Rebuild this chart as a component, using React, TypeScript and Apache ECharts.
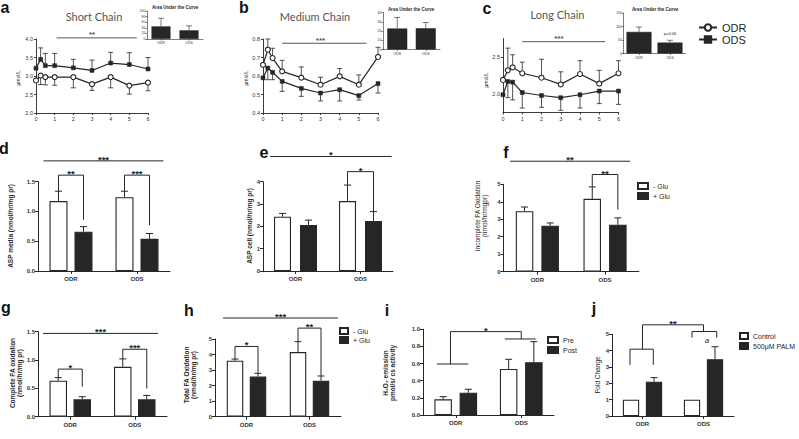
import React, { useEffect, useRef } from 'react';
import * as echarts from 'echarts';

const FONT = '"Liberation Sans", Arial, Helvetica, sans-serif';
const TITLE_FONT = 'Lato, "Open Sans", sans-serif';
const INK = '#262626';

// ---------------- time-course data (panels a-c) ----------------
const timePoints = [0, 0.25, 0.5, 1, 2, 3, 4, 5, 6];

const shortODR = [2.88, 3.01, 2.97, 2.97, 2.97, 2.78, 2.97, 2.74, 2.82];
const shortODRErr = [null, 2.77, 2.76, 2.75, 2.68, 2.61, 2.68, 2.51, 2.6];
const shortODS = [3.21, 3.45, 3.28, 3.28, 3.22, 3.15, 3.35, 3.31, 3.19];
const shortODSErr = [null, 3.76, 3.61, 3.61, 3.45, 3.43, 3.64, 3.63, 3.5];

const mediumODR = [0.66, 0.742, 0.697, 0.625, 0.591, 0.553, 0.598, 0.553, 0.703];
const mediumODRErr = [null, 0.8, 0.75, 0.685, 0.649, 0.593, 0.64, 0.606, 0.755];
const mediumODS = [0.59, 0.643, 0.62, 0.571, 0.533, 0.508, 0.526, 0.494, 0.559];
const mediumODSErr = [null, 0.58, 0.58, 0.517, 0.49, 0.465, 0.465, 0.47, 0.508];

const longODR = [2.19, 2.32, 2.36, 2.28, 2.22, 2.13, 2.27, 2.14, 2.28];
const longODRErr = [null, 2.62, 2.53, 2.43, 2.47, 2.3, 2.45, 2.32, 2.45];
const longODS = [1.99, 2.17, 2.16, 2.02, 1.98, 1.95, 1.99, 2.04, 2.04];
const longODSErr = [null, 1.95, 1.92, 1.81, 1.82, 1.78, 1.81, 1.87, 1.86];

// ---------------- area under the curve insets ----------------
const groups = ['ODR', 'ODS'];
const aucShort = [45, 31];
const aucShortErr = [74, 47];
const aucMedium = [22.7, 23];
const aucMediumErr = [34.6, 29.2];
const aucLong = [80, 40.6];
const aucLongErr = [98, 49];

// ---------------- bar panels (d-j) ----------------
const aspMediaMinus = [1.175, 1.24];
const aspMediaMinusErr = [1.34, 1.34];
const aspMediaPlus = [0.66, 0.54];
const aspMediaPlusErr = [0.745, 0.63];

const aspCellMinus = [2.43, 3.13];
const aspCellMinusErr = [2.58, 3.85];
const aspCellPlus = [2.06, 2.24];
const aspCellPlusErr = [2.28, 2.66];

const incompleteMinus = [3.46, 4.17];
const incompleteMinusErr = [3.7, 4.85];
const incompletePlus = [2.63, 2.69];
const incompletePlusErr = [2.79, 3.08];

const completeMinus = [0.635, 0.88];
const completeMinusErr = [0.69, 1.02];
const completePlus = [0.306, 0.306];
const completePlusErr = [0.353, 0.376];

const totalMinus = [3.6, 4.16];
const totalMinusErr = [3.71, 4.83];
const totalPlus = [2.58, 2.32];
const totalPlusErr = [2.79, 2.62];

const h2o2Pre = [0.183, 0.537];
const h2o2PreErr = [0.214, 0.65];
const h2o2Post = [0.26, 0.615];
const h2o2PostErr = [0.3, 0.856];

const foldControl = [1.0, 1.0];
const foldControlErr = [null, null];
const foldPalm = [2.1, 3.47];
const foldPalmErr = [2.35, 4.24];

type Pt = [number, number, number];
type Ann = { lines?: Pt[][]; text?: string; at?: Pt; size?: number; italic?: boolean; dy?: number; color?: string };

function errSeries(gi: number, xs: number[], means: number[], ends: (number | null)[], off: number, cap: number, z = 4, lw = 0.9) {
  const data = xs.map((x, i) => [x, means[i], ends[i]]).filter((d) => d[2] != null);
  return {
    type: 'custom', xAxisIndex: gi, yAxisIndex: gi, z, silent: true, clip: false,
    data, encode: { x: 0, y: [1, 2] },
    renderItem: (params: any, api: any) => {
      const x = api.value(0), m = api.value(1), e = api.value(2);
      const a = api.coord([x, m]);
      const b = api.coord([x, e]);
      const px = a[0] + off;
      return {
        type: 'group', children: [
          { type: 'line', shape: { x1: px, y1: a[1], x2: px, y2: b[1] }, style: { stroke: INK, lineWidth: lw } },
          { type: 'line', shape: { x1: px - cap, y1: b[1], x2: px + cap, y2: b[1] }, style: { stroke: INK, lineWidth: lw } },
        ],
      };
    },
  };
}

function annSeries(gi: number, anns: Ann[], off: number, isCat: boolean, color: string, textSize: number) {
  return {
    type: 'custom', xAxisIndex: gi, yAxisIndex: gi, z: 6, silent: true, clip: false,
    data: anns.map(() => [0, 0]), encode: { x: 0, y: 1 },
    renderItem: (params: any, api: any) => {
      const a = anns[params.dataIndex];
      const P = (p: Pt) => {
        if (isCat) {
          const c0 = api.coord([0, p[2]]);
          const c1 = api.coord([1, p[2]]);
          return [c0[0] + p[0] * (c1[0] - c0[0]) + p[1] * off, c0[1]];
        }
        const c = api.coord([p[0], p[2]]);
        return [c[0] + p[1] * off, c[1]];
      };
      const children: any[] = [];
      (a.lines || []).forEach((ln) => {
        children.push({ type: 'polyline', shape: { points: ln.map(P) }, style: { stroke: a.color || color, lineWidth: 1, fill: null } });
      });
      if (a.text && a.at) {
        const q = P(a.at);
        children.push({
          type: 'text', x: q[0], y: q[1] + (a.dy == null ? -1.5 : a.dy),
          style: { text: a.text, fontSize: a.size || textSize, fontFamily: FONT, fontWeight: a.italic ? 'normal' : 'bold', fontStyle: a.italic ? 'italic' : 'normal', fill: a.color || color, align: 'center', verticalAlign: 'middle' },
        });
      }
      return { type: 'group', children };
    },
  };
}

const linePanels = [
  { box: { left: 36, top: 39, width: 112, height: 74 }, yMin: 2, yMax: 4, yInt: 0.5, ticks: undefined as any,
    odr: shortODR, odrErr: shortODRErr, ods: shortODS, odsErr: shortODSErr,
    anns: [{ lines: [[[1.1, 0, 4.03], [5.4, 0, 4.03]]], text: '**', at: [3.0, 0, 4.03], dy: -3 }] as Ann[] },
  { box: { left: 263, top: 39, width: 115, height: 74 }, yMin: 0.4, yMax: 0.8, yInt: 0.1, ticks: undefined as any,
    odr: mediumODR, odrErr: mediumODRErr, ods: mediumODS, odsErr: mediumODSErr,
    anns: [{ lines: [[[1.0, 0, 0.777], [5.4, 0, 0.777]]], text: '***', at: [3.0, 0, 0.777], dy: -3 }] as Ann[] },
  { box: { left: 503, top: 38.5, width: 115.5, height: 74 }, yMin: 1.75, yMax: 2.75, yInt: 0.25, ticks: [2.0, 2.5],
    odr: longODR, odrErr: longODRErr, ods: longODS, odsErr: longODSErr,
    anns: [{ lines: [[[1.0, 0, 2.707], [5.3, 0, 2.707]]], text: '***', at: [2.9, 0, 2.707], dy: -3 }] as Ann[] },
];

const insetPanels = [
  { box: { left: 147, top: 11, width: 56, height: 28 }, max: 100, int: 20, v: aucShort, e: aucShortErr, barW: 19 },
  { box: { left: 383, top: 12.5, width: 57, height: 37 }, max: 40, int: 10, v: aucMedium, e: aucMediumErr, barW: 20 },
  { box: { left: 623.5, top: 13, width: 62, height: 40.5 }, max: 150, int: 50, v: aucLong, e: aucLongErr, barW: 25 },
];

const barPanels = [
  { box: { left: 38, top: 181.7, width: 132, height: 89.3 }, yMax: 1.5, yInt: 0.5, dec: 1, names: ['- Glu', '+ Glu'],
    a: aspMediaMinus, aE: aspMediaMinusErr, b: aspMediaPlus, bE: aspMediaPlusErr, barW: 18, off: 12.5,
    anns: [
      { lines: [[[0, -2.2, 1.85], [1, 2.12, 1.85]]], text: '***', at: [0.5, -0.04, 1.85] },
      { lines: [[[0, -1, 1.345], [0, -1, 1.61], [0, 1, 1.61], [0, 1, 0.86]]], text: '**', at: [0, 0, 1.61] },
      { lines: [[[1, -1, 1.345], [1, -1, 1.61], [1, 1, 1.61], [1, 1, 0.77]]], text: '***', at: [1, 0, 1.61] },
    ] as Ann[] },
  { box: { left: 263, top: 181.7, width: 130, height: 89.3 }, yMax: 4, yInt: 1, dec: 0, names: ['- Glu', '+ Glu'],
    a: aspCellMinus, aE: aspCellMinusErr, b: aspCellPlus, bE: aspCellPlusErr, barW: 17, off: 13,
    anns: [
      { lines: [[[0, -1.96, 5.13], [1, 2.4, 5.13]]], text: '*', at: [0.5, 0.22, 5.13] },
      { lines: [[[1, -1, 3.86], [1, -1, 4.45], [1, 1, 4.45], [1, 1, 2.66]]], text: '*', at: [1, 0, 4.45] },
    ] as Ann[] },
  { box: { left: 503.5, top: 184.3, width: 135.4, height: 87.4 }, yMax: 5, yInt: 1, dec: 0, names: ['- Glu', '+ Glu'],
    a: incompleteMinus, aE: incompleteMinusErr, b: incompletePlus, bE: incompletePlusErr, barW: 17.5, off: 12.8,
    anns: [
      { lines: [[[0, -2.13, 6.32], [1, 1.95, 6.32]]], text: '**', at: [0.5, -0.09, 6.32] },
      { lines: [[[1, -1, 4.85], [1, -1, 5.56], [1, 1, 5.56], [1, 1, 3.55]]], text: '**', at: [1, 0, 5.56] },
    ] as Ann[] },
  { box: { left: 38, top: 331.7, width: 129, height: 85 }, yMax: 1.5, yInt: 0.5, dec: 1, names: ['- Glu', '+ Glu'],
    a: completeMinus, aE: completeMinusErr, b: completePlus, bE: completePlusErr, barW: 17.5, off: 12,
    anns: [
      { lines: [[[0, -2.27, 1.47], [1, 1.94, 1.47]]], text: '***', at: [0.5, -0.16, 1.47] },
      { lines: [[[0, -1, 0.69], [0, -1, 0.84], [0, 1, 0.84], [0, 1, 0.53]]], text: '*', at: [0, 0, 0.84] },
      { lines: [[[1, -1, 1.02], [1, -1, 1.19], [1, 1, 1.19], [1, 1, 0.5]]], text: '***', at: [1, 0, 1.19] },
    ] as Ann[] },
  { box: { left: 215, top: 339, width: 126, height: 77.7 }, yMax: 5, yInt: 1, dec: 0, names: ['- Glu', '+ Glu'],
    a: totalMinus, aE: totalMinusErr, b: totalPlus, bE: totalPlusErr, barW: 16.5, off: 11.5,
    anns: [
      { lines: [[[0, -2.04, 6.35], [1, 2.48, 6.35]]], text: '***', at: [0.5, 0.22, 6.35] },
      { lines: [[[0, -1, 3.71], [0, -1, 4.52], [0, 1, 4.52], [0, 1, 2.8]]], text: '*', at: [0, 0, 4.52] },
      { lines: [[[1, -1, 4.83], [1, -1, 5.7], [1, 1, 5.7], [1, 1, 2.63]]], text: '**', at: [1, 0, 5.7] },
    ] as Ann[] },
  { box: { left: 423, top: 329.3, width: 131, height: 85.7 }, yMax: 1.0, yInt: 0.2, dec: 1, names: ['Pre', 'Post'],
    a: h2o2Pre, aE: h2o2PreErr, b: h2o2Post, bE: h2o2PostErr, barW: 17.5, off: 12.6,
    anns: [
      { lines: [[[0, -1.5, 0.595], [0, 1, 0.595]]] },
      { lines: [[[0, -0.42, 0.595], [0, -0.42, 0.973], [1, 0, 0.973], [1, 0, 0.887]]], text: '*', at: [0.5, -0.21, 0.973] },
      { lines: [[[1, -1.3, 0.887], [1, 1.15, 0.887]]] },
    ] as Ann[] },
  { box: { left: 612, top: 334.3, width: 122, height: 81.7 }, yMax: 5, yInt: 1, dec: 0, names: ['Control', '500μM PALM'],
    a: foldControl, aE: foldControlErr, b: foldPalm, bE: foldPalmErr, barW: 16.3, off: 11.5,
    anns: [
      { lines: [[[0, -1.09, 3.13], [0, -1.09, 4.09], [0, 0.94, 4.09], [0, 0.94, 3.13]]] },
      { lines: [[[0, 0, 4.09], [0, 0, 5.58], [1, 0, 5.58], [1, 0, 5.17]]], text: '**', at: [0.5, 0, 5.58] },
      { lines: [[[1, -1, 4.8], [1, -1, 5.17], [1, 1.15, 5.17], [1, 1.15, 4.8]]] },
      { text: 'a', at: [1, 0.3, 4.63], italic: true, size: 8, dy: 0 },
    ] as Ann[] },
];

function txt(x: number, y: number, text: string, size: number, o: any = {}) {
  return {
    type: 'text', x, y, rotation: o.rot || 0, silent: true,
    style: {
      text, fontSize: size, fontFamily: o.font || FONT, fill: o.color || INK,
      fontWeight: o.weight || 'normal', fontStyle: o.italic ? 'italic' : 'normal',
      align: o.align || 'center', verticalAlign: o.va || 'middle',
    },
  };
}

function buildOption() {
  const grid: any[] = [];
  const xAxis: any[] = [];
  const yAxis: any[] = [];
  const series: any[] = [];
  const axLine = (w = 0.9) => ({ show: true, onZero: false, lineStyle: { color: INK, width: w } });

  linePanels.forEach((p) => {
    const gi = grid.length;
    grid.push(p.box);
    xAxis.push({
      gridIndex: gi, type: 'value', min: 0, max: 6, interval: 1,
      axisLine: axLine(), axisTick: { show: true, length: 2, lineStyle: { color: INK, width: 0.9 } },
      axisLabel: { fontSize: 5.5, color: '#333', margin: 3, fontFamily: FONT }, splitLine: { show: false },
    });
    yAxis.push({
      gridIndex: gi, type: 'value', min: p.yMin, max: p.yMax, interval: p.yInt,
      axisLine: axLine(), axisTick: { show: true, length: 2, lineStyle: { color: INK, width: 0.9 }, customValues: p.ticks },
      axisLabel: { fontSize: 5.5, color: '#333', margin: 3, fontFamily: FONT, formatter: (v: number) => v.toFixed(1), customValues: p.ticks },
      splitLine: { show: false },
    });
    series.push(errSeries(gi, timePoints, p.odr, p.odrErr, 0, 2.5, 2, 0.8));
    series.push(errSeries(gi, timePoints, p.ods, p.odsErr, 0, 2.5, 2, 0.8));
    series.push({
      type: 'line', name: 'ODS', xAxisIndex: gi, yAxisIndex: gi, z: 3,
      data: timePoints.map((x, i) => [x, p.ods[i]]), symbol: 'rect', symbolSize: 4,
      lineStyle: { color: INK, width: 1.2 }, itemStyle: { color: INK, borderColor: INK, borderWidth: 0.5 },
    });
    series.push({
      type: 'line', name: 'ODR', xAxisIndex: gi, yAxisIndex: gi, z: 3,
      data: timePoints.map((x, i) => [x, p.odr[i]]), symbol: 'circle', symbolSize: 5,
      lineStyle: { color: INK, width: 1.2 }, itemStyle: { color: '#fff', borderColor: INK, borderWidth: 1.1 },
    });
    series.push(annSeries(gi, p.anns, 0, false, '#555', 8));
  });

  insetPanels.forEach((p) => {
    const gi = grid.length;
    grid.push(p.box);
    xAxis.push({
      gridIndex: gi, type: 'category', data: groups,
      axisLine: axLine(0.6), axisTick: { show: true, alignWithLabel: true, length: 1.5, lineStyle: { color: INK, width: 0.6 } },
      axisLabel: { fontSize: 3.5, color: '#333', margin: 2, interval: 0, fontFamily: FONT },
    });
    yAxis.push({
      gridIndex: gi, type: 'value', min: 0, max: p.max, interval: p.int,
      axisLine: axLine(0.6), axisTick: { show: true, length: 1.5, lineStyle: { color: INK, width: 0.6 } },
      axisLabel: { fontSize: 3.5, color: '#333', margin: 1.5, fontFamily: FONT }, splitLine: { show: false },
    });
    series.push({
      type: 'bar', xAxisIndex: gi, yAxisIndex: gi, data: p.v, barWidth: p.barW, z: 2,
      itemStyle: { color: INK, borderColor: INK, borderWidth: 0.5 },
    });
    series.push(errSeries(gi, [0, 1], p.v, p.e, 0, 3, 3, 0.6));
  });

  barPanels.forEach((p) => {
    const gi = grid.length;
    grid.push(p.box);
    const gap = ((2 * p.off - p.barW) / p.barW) * 100 + '%';
    xAxis.push({
      gridIndex: gi, type: 'category', data: groups,
      axisLine: axLine(1), axisTick: { show: true, alignWithLabel: true, length: 3, lineStyle: { color: INK, width: 1 } },
      axisLabel: { fontSize: 6, color: '#333', margin: 5, interval: 0, fontWeight: 'bold', fontFamily: FONT },
    });
    yAxis.push({
      gridIndex: gi, type: 'value', min: 0, max: p.yMax, interval: p.yInt,
      axisLine: axLine(1), axisTick: { show: true, length: 3, lineStyle: { color: INK, width: 1 } },
      axisLabel: { fontSize: 6, color: '#333', margin: 3, fontWeight: 'bold', fontFamily: FONT, formatter: (v: number) => v.toFixed(p.dec) },
      splitLine: { show: false },
    });
    series.push({
      type: 'bar', name: p.names[0], xAxisIndex: gi, yAxisIndex: gi, data: p.a, barWidth: p.barW, barGap: gap, z: 2,
      itemStyle: { color: '#fff', borderColor: INK, borderWidth: 1.1 },
    });
    series.push({
      type: 'bar', name: p.names[1], xAxisIndex: gi, yAxisIndex: gi, data: p.b, barWidth: p.barW, barGap: gap, z: 2,
      itemStyle: { color: INK, borderColor: INK, borderWidth: 1.1 },
    });
    series.push(errSeries(gi, [0, 1], p.a, p.aE, -p.off, 3.5, 3, 1));
    series.push(errSeries(gi, [0, 1], p.b, p.bE, p.off, 3.5, 3, 1));
    series.push(annSeries(gi, p.anns, p.off, true, INK, 9.5));
  });

  const legText = (s: number) => ({ fontSize: s, fontFamily: FONT, color: INK });
  const legend = [
    { data: ['ODR', 'ODS'], orient: 'vertical', left: 698, top: 22, padding: 0, itemWidth: 18, itemHeight: 8, itemGap: 1, selectedMode: false, textStyle: legText(11) },
    { data: ['- Glu', '+ Glu'], orient: 'vertical', left: 637, top: 182, padding: 0, itemWidth: 10, itemHeight: 6, itemGap: 2, icon: 'rect', selectedMode: false, textStyle: legText(7) },
    { data: ['- Glu', '+ Glu'], orient: 'vertical', left: 339, top: 327, padding: 0, itemWidth: 8, itemHeight: 6, itemGap: 1, icon: 'rect', selectedMode: false, textStyle: legText(7) },
    { data: ['Pre', 'Post'], orient: 'vertical', left: 547, top: 336, padding: 0, itemWidth: 10, itemHeight: 6, itemGap: 2, icon: 'rect', selectedMode: false, textStyle: legText(7) },
    { data: ['Control', '500μM PALM'], orient: 'vertical', left: 739, top: 332, padding: 0, itemWidth: 8, itemHeight: 6, itemGap: 2, icon: 'rect', selectedMode: false, textStyle: legText(7) },
  ];

  const L = (x: number, y: number, t: string) => txt(x, y, t, 16, { weight: 'bold', va: 'bottom', color: '#111' });
  const R = Math.PI / 2;
  const graphic = [
    L(5, 15, 'a'), L(244, 15, 'b'), L(487, 16, 'c'),
    L(4, 156, 'd'), L(264, 160, 'e'), L(506, 160, 'f'),
    L(6, 315, 'g'), L(189, 318, 'h'), L(387, 318, 'i'), L(594, 316, 'j'),
    txt(94, 16, 'Short Chain', 11, { font: TITLE_FONT, color: '#555' }),
    txt(315, 16.5, 'Medium Chain', 11, { font: TITLE_FONT, color: '#555' }),
    txt(557.5, 14, 'Long Chain', 11, { font: TITLE_FONT, color: '#555' }),
    txt(175, 7, 'Area Under the Curve', 4.5, { weight: 'bold' }),
    txt(411, 9.5, 'Area Under the Curve', 4.5, { weight: 'bold' }),
    txt(655, 9.5, 'Area Under the Curve', 4.5, { weight: 'bold' }),
    txt(670, 33, 'p=0.06', 4, {}),
    txt(18, 78, 'μmol/L', 5, { rot: R }),
    txt(246, 78, 'μmol/L', 5, { rot: R }),
    txt(486, 80, 'μmol/L', 5, { rot: R }),
    txt(10, 226, 'ASP media (nmol/hr/mg pr)', 6.5, { rot: R, weight: 'bold' }),
    txt(249, 226, 'ASP cell (nmol/hr/mg pr)', 6.5, { rot: R, weight: 'bold' }),
    txt(481, 216, 'Incomplete FA Oxidation\n(nmol/hr/mgpr)', 6.5, { rot: R }),
    txt(16, 373, 'Complete FA oxidation\n(nmol/hr/mg pr)', 6.5, { rot: R, weight: 'bold' }),
    txt(190, 375, 'Total FA Oxidation\n(nmol/hr/mg pr)', 6.5, { rot: R, weight: 'bold' }),
    txt(389, 373, 'H₂O₂ emission\npmol/s/ cs activity', 6.5, { rot: R, weight: 'bold' }),
    txt(597, 375, 'Fold Change', 6.5, { rot: R }),
  ];

  return { animation: false, backgroundColor: '#fff', grid, xAxis, yAxis, series, legend, graphic };
}

export default function App() {
  const ref = useRef<HTMLDivElement>(null);
  useEffect(() => {
    if (!ref.current) return;
    const chart = echarts.init(ref.current, undefined, { renderer: 'svg' });
    chart.setOption(buildOption() as any);
    return () => chart.dispose();
  }, []);
  return <div ref={ref} style={{ position: 'absolute', left: 0, top: 0, width: 799, height: 439, background: '#fff' }} />;
}
